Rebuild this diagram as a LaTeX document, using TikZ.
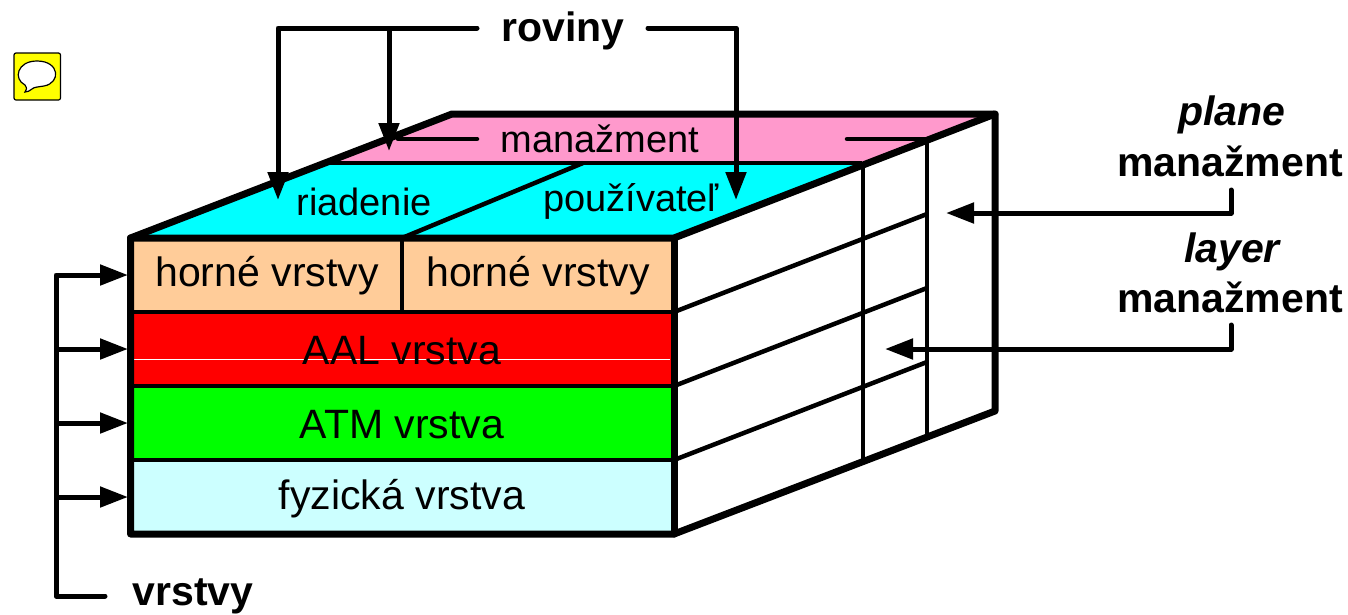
\documentclass[tikz,border=0pt]{standalone}
\usepackage{fontspec}
\setmainfont{Liberation Sans}
\usetikzlibrary{arrows.meta}
\definecolor{peach}{HTML}{FFCC99}
\definecolor{lcyan}{HTML}{CCFFFF}
\definecolor{pinkm}{HTML}{FF99CC}
\definecolor{topcyan}{HTML}{00FFFF}
\definecolor{fullgreen}{HTML}{00FF00}
\definecolor{fullred}{HTML}{FF0000}
\definecolor{iconyellow}{HTML}{FFFF00}
\tikzset{
  thickline/.style={line width=7pt,line join=round,line cap=round},
  midline/.style={line width=4.5pt},
  conn/.style={line width=5pt,line join=round},
  arr/.style={conn,-{Triangle[length=28pt,width=20pt]}},
  lbl/.style={inner sep=0pt,font=\fontsize{41}{49}\selectfont},
  tlbl/.style={inner sep=0pt,font=\fontsize{38}{46}\selectfont},
  blbl/.style={inner sep=0pt,font=\fontsize{41}{49}\selectfont\bfseries},
  ilbl/.style={inner sep=0pt,font=\fontsize{41}{49}\selectfont\bfseries\itshape},
}
\begin{document}
\begin{tikzpicture}[x=1pt,y=-1pt]
\useasboundingbox (0,0) rectangle (1348,614);
% cube corners
\coordinate (FTL) at (130.5,238);
\coordinate (FTR) at (674,238);
\coordinate (FBL) at (130.5,534);
\coordinate (FBR) at (674,534);
\coordinate (BTL) at (452,114);
\coordinate (BTR) at (995,114);
\coordinate (BBR) at (995,411);
% top face
\fill[pinkm] (BTL) -- (BTR) -- (862,163) -- (330,163) -- cycle;
\fill[topcyan] (330,163) -- (862,163) -- (FTR) -- (FTL) -- cycle;
% front layers
\fill[peach] (130,238) rectangle (674,312);
\fill[fullred] (130,312) rectangle (674,386);
\fill[fullgreen] (130,386) rectangle (674,460);
\fill[lcyan] (130,460) rectangle (674,534);
\draw[white,line width=1pt] (134,359.5) -- (670,359.5);
% inner lines
\draw[midline] (130,312) -- (674,312) (130,386) -- (674,386) (130,460) -- (674,460);
\draw[midline] (402,238) -- (402,312);
\draw[midline] (330,163) -- (862,163);
\draw[midline] (402,238) -- (583,163);
\draw[midline] (674,312) -- (927,214) (674,386) -- (927,288) (674,460) -- (927,362);
\draw[midline] (863,163) -- (863,460);
\draw[midline] (927,139) -- (927,434);
\draw[midline,line cap=round] (398,139) -- (477,139) (847,139) -- (927,139);
% outline
\draw[thickline] (FBL) -- (FTL) -- (BTL) -- (BTR) -- (BBR) -- (FBR) -- cycle;
\draw[thickline] (FTL) -- (FTR) -- (BTR);
\draw[thickline] (FTR) -- (FBR);
% labels in the cube
\node[tlbl] (m) at (600,139) {manažment};
\node[tlbl] (r) at (364,202) {riadenie};
\node[tlbl] (p) at (631,201) {používateľ};
\node[lbl] (h1) at (267,276) {horné vrstvy};
\node[lbl] (h2) at (538,276) {horné vrstvy};
\node[lbl] (a) at (402,351) {AAL vrstva};
\node[lbl] (t) at (402,425) {ATM vrstva};
\node[lbl] (f) at (402,499) {fyzická vrstva};
% outer labels
\node[blbl] (rov) at (563,31) {roviny};
\node[blbl] (vrs) at (193,596.5) {vrstvy};
\node[ilbl] (pl) at (1232,115) {plane};
\node[blbl] (m1) at (1230,161) {manažment};
\node[ilbl] (la) at (1232,252) {layer};
\node[blbl] (m2) at (1230,297) {manažment};
% connector coordinates
\coordinate (r1) at (278,28);
\coordinate (r2) at (389,28);
\coordinate (r3) at (736,28);
\coordinate (rl) at (477,28);
\coordinate (rr) at (648,28);
\coordinate (t1) at (278,200);
\coordinate (t2) at (389,151);
\coordinate (t3) at (736,200);
\draw[conn,line cap=round] (rl) -- (r1) -- (278,180);
\draw[arr] (r1) -- (t1);
\draw[arr] (r2) -- (t2);
\draw[conn,line cap=round] (rr) -- (r3) -- (736,180);
\draw[arr] (r3) -- (t3);
% left bracket
\coordinate (v0) at (56,275);
\coordinate (v1) at (56,349);
\coordinate (v2) at (56,423);
\coordinate (v3) at (56,497);
\coordinate (v4) at (56,596);
\coordinate (v5) at (105,596);
\draw[conn,line cap=round] (110,275) -- (v0) -- (v4) -- (v5);
\draw[arr] (v0) -- (128,275);
\draw[arr] (v1) -- (128,349);
\draw[arr] (v2) -- (128,423);
\draw[arr] (v3) -- (128,497);
% right arrows
\coordinate (a1) at (1231,190);
\coordinate (a2) at (1231,213);
\coordinate (a3) at (946,213);
\coordinate (b1) at (1231,325);
\coordinate (b2) at (1231,349);
\coordinate (b3) at (885,349);
\draw[arr,line cap=round] (a1) -- (a2) -- (a3);
\draw[arr,line cap=round] (b1) -- (b2) -- (b3);
% comment icon
\draw[fill=iconyellow,line width=1.2pt,rounded corners=2pt] (14,53) rectangle (60.5,100);
\draw[fill=white,line width=1.2pt] (25,85)
  .. controls (13,79) and (17,61) .. (37,61)
  .. controls (60,61) and (61,83) .. (44,86)
  .. controls (38,87) and (34,87) .. (32,89)
  .. controls (30,91) and (27,92) .. (25,92)
  .. controls (27,90) and (27,88) .. (25,85) -- cycle;
\end{tikzpicture}
\end{document}
